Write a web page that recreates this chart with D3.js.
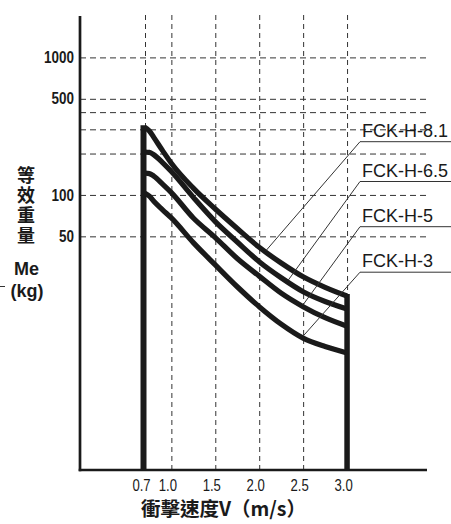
<!DOCTYPE html>
<html>
<head>
<meta charset="utf-8">
<script src="https://cdn.jsdelivr.net/npm/d3@7"></script>
<style>
  html, body { margin: 0; padding: 0; background: #fff; }
  svg { display: block; }
</style>
</head>
<body>
<svg id="chart" width="451" height="524"></svg>
<script>
// ---------------- data ----------------
const speeds = [0.7, 0.75, 0.8, 0.9, 1.0, 1.25, 1.5, 1.75, 2.0, 2.25, 2.5, 2.75, 3.0];
const seriesNames = ["FCK-H-8.1", "FCK-H-6.5", "FCK-H-5", "FCK-H-3"];
const massH81 = [310, 292, 262, 210, 170, 112, 79, 57, 41.6, 32, 25.4, 21.3, 18.4];
const massH65 = [205, 204, 196, 172, 148, 96, 64, 45.5, 32.7, 25, 19.8, 16.8, 14.8];
const massH5  = [144, 143, 137, 120, 104, 68, 49, 34.5, 25.7, 19.3, 15.4, 12.8, 11.1];
const massH3  = [103, 98, 90, 78, 68, 45, 31, 21.5, 15.4, 11.5, 9.1, 7.9, 7.1];
const xTicks = [0.7, 1.0, 1.5, 2.0, 2.5, 3.0];
const yGrid = [1000, 500, 400, 300, 200, 100, 50];
const yLabeled = [1000, 500, 100, 50];
const leaderSpeeds = [2.08, 2.33, 2.5, 2.5];   // where each label's leader meets its curve
const yTitle = "等效重量";
const xTitle = "衝擊速度V（m/s）";

// ---------------- layout ----------------
const svg = d3.select("#chart");
const X0 = 80, X1 = 427, Y0 = 470, YTOP = 16;
const ink = "#1a1a1a";
const sans = "'Liberation Sans',Arial,sans-serif";

const x = d3.scaleLinear().domain([-0.04, 3.91]).range([X0, X1]);
const y = d3.scaleLog().domain([1, 2000]).range([Y0, YTOP]);

function condense(sel, k) {
  sel.each(function () {
    const w = this.getComputedTextLength();
    if (w > 0) d3.select(this).attr("textLength", w * k).attr("lengthAdjust", "spacingAndGlyphs");
  });
}

// horizontal grid + y tick labels
const yAxis = svg.append("g")
  .attr("transform", `translate(${X0},0)`)
  .call(d3.axisLeft(y).tickValues(yGrid).tickSize(-(428 - X0)).tickPadding(6)
    .tickFormat(d => yLabeled.includes(d) ? String(d) : ""));
yAxis.select(".domain").remove();
yAxis.selectAll(".tick line")
  .attr("stroke", "#333").attr("stroke-width", 1).attr("stroke-dasharray", "6,4");
yAxis.selectAll(".tick text")
  .attr("fill", "#1a1a1a").style("font-family", sans).style("font-size", "16px")
  .style("font-weight", "bold").call(condense, 0.84);

// vertical grid + x tick labels
const xAxis = svg.append("g")
  .attr("transform", `translate(0,${Y0})`)
  .call(d3.axisBottom(x).tickValues(xTicks).tickSize(-(Y0 - 15)).tickPadding(10)
    .tickFormat(d3.format(".1f")));
xAxis.select(".domain").remove();
xAxis.selectAll(".tick line")
  .attr("stroke", "#333").attr("stroke-width", 1).attr("stroke-dasharray", "5,4");
xAxis.selectAll(".tick text")
  .attr("fill", "#1a1a1a").attr("dx", -4).style("font-family", sans).style("font-size", "16px")
  .call(condense, 0.82);

// axes lines
svg.append("line").attr("x1", X0).attr("x2", X0).attr("y1", YTOP).attr("y2", Y0 + 1.3)
  .attr("stroke", ink).attr("stroke-width", 2.7);
svg.append("line").attr("x1", X0 - 1.3).attr("x2", X1).attr("y1", Y0).attr("y2", Y0)
  .attr("stroke", ink).attr("stroke-width", 2.7);

// curves
const allSeries = [massH81, massH65, massH5, massH3];
const line = d3.line()
  .x((d, i) => x(speeds[i]))
  .y(d => y(d))
  .curve(d3.curveMonotoneX);
svg.append("g").selectAll("path").data(allSeries).join("path")
  .attr("d", d => line(d))
  .attr("fill", "none").attr("stroke", ink).attr("stroke-width", 5.2)
  .attr("stroke-linejoin", "round");

// thick boundaries at 0.7 and 3.0
const vMin = speeds[0], vMax = speeds[speeds.length - 1];
svg.append("line")
  .attr("x1", x(vMin) - 1.5).attr("x2", x(vMin) - 1.5)
  .attr("y1", y(d3.max(allSeries, s => s[0])) - 2).attr("y2", Y0)
  .attr("stroke", ink).attr("stroke-width", 6);
svg.append("line")
  .attr("x1", x(vMax)).attr("x2", x(vMax))
  .attr("y1", y(d3.max(allSeries, s => s[s.length - 1])) - 2).attr("y2", Y0)
  .attr("stroke", ink).attr("stroke-width", 5.5);

// labels with leaders
const labelY = [141.7, 181.5, 226.7, 272.2];
const LX = 360;
seriesNames.forEach((name, i) => {
  const s = allSeries[i];
  const v = leaderSpeeds[i];
  const j = d3.bisectRight(speeds, v) - 1;
  const t = (v - speeds[j]) / (speeds[j + 1] - speeds[j]);
  const m = Math.exp(Math.log(s[j]) * (1 - t) + Math.log(s[j + 1]) * t);
  svg.append("line").attr("x1", LX).attr("y1", labelY[i]).attr("x2", 451).attr("y2", labelY[i])
    .attr("stroke", "#333").attr("stroke-width", 1);
  svg.append("line").attr("x1", LX).attr("y1", labelY[i]).attr("x2", x(v)).attr("y2", y(m) - 2)
    .attr("stroke", "#333").attr("stroke-width", 1);
  svg.append("text").attr("x", LX + 2).attr("y", labelY[i] - 5)
    .attr("fill", "#1a1a1a").style("font-family", sans)
    .style("font-size", "18px").text(name);
});

// y title (vertical)
const cjk = "'Noto Sans CJK TC','Noto Sans CJK SC',sans-serif";
svg.append("text").attr("x", 26).attr("y", 166)
  .style("writing-mode", "vertical-rl").style("letter-spacing", "2px")
  .attr("fill", "#1a1a1a").style("font-family", cjk).style("font-weight", "bold")
  .style("font-size", "18px").text(yTitle);
svg.append("text").attr("x", 26.5).attr("y", 275).attr("text-anchor", "middle")
  .attr("fill", "#1a1a1a").style("font-family", sans)
  .style("font-weight", "bold").style("font-size", "18px").text("Me");
svg.append("text").attr("x", 27).attr("y", 297).attr("text-anchor", "middle")
  .attr("fill", "#1a1a1a").style("font-family", sans)
  .style("font-weight", "bold").style("font-size", "18px").text("(kg)");
svg.append("line").attr("x1", 0).attr("x2", 5).attr("y1", 286.5).attr("y2", 286.5)
  .attr("stroke", "#333").attr("stroke-width", 1);

// x title
svg.append("text").attr("x", 223.5).attr("y", 516).attr("text-anchor", "middle")
  .attr("fill", "#1a1a1a").style("font-family", cjk).style("font-weight", "bold")
  .style("font-size", "19.5px").text(xTitle);
</script>
</body>
</html>
